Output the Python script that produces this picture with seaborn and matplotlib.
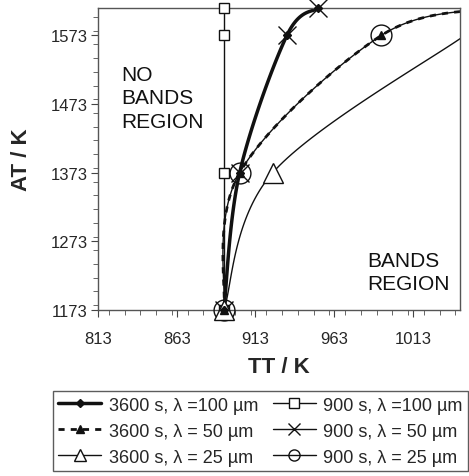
import numpy as np
import matplotlib
matplotlib.use('Agg')
import matplotlib.pyplot as plt
from matplotlib.ticker import MultipleLocator
import seaborn as sns

# AT levels (K)
at_levels = [1173, 1373, 1573, 1613]

# TT values (K) for every series
tt_3600_100 = [893, 903, 933, 953]
tt_3600_50 = [893, 903, 993, 1065]
tt_3600_25 = [893, 924, 1046]
tt_900_100 = [893, 893, 893, 893]
tt_900_50 = [893, 903, 933, 953]
tt_900_25 = [893, 903, 993, 1065]

labels = ['3600 s, λ =100 µm', '3600 s, λ = 50 µm', '3600 s, λ = 25 µm',
          '900 s, λ =100 µm', '900 s, λ = 50 µm', '900 s, λ = 25 µm']

XMIN, XMAX = 813, 1043
YMIN, YMAX = 1173, 1613
SX, SY = 1.57, 0.6875  # px per K, used to make the smoothing isotropic


def smooth(xs, ys, n=40):
    # Excel-like smoothed line (Catmull-Rom bezier), computed in pixel space
    p = np.column_stack([np.asarray(xs, float) * SX, np.asarray(ys, float) * SY])
    ext = np.vstack([p[0], p, p[-1]])
    t = np.linspace(0, 1, n)[:, None]
    out = []
    for i in range(len(p) - 1):
        p0, p1 = ext[i + 1], ext[i + 2]
        c1 = p0 + (ext[i + 2] - ext[i]) / 6
        c2 = p1 - (ext[i + 3] - ext[i + 1]) / 6
        seg = (1 - t) ** 3 * p0 + 3 * (1 - t) ** 2 * t * c1 + 3 * (1 - t) * t ** 2 * c2 + t ** 3 * p1
        out.append(seg if i == 0 else seg[1:])
    out = np.vstack(out)
    return out[:, 0] / SX, out[:, 1] / SY


sns.set_style('ticks')
plt.rcParams['font.family'] = ['Liberation Sans', 'DejaVu Sans']

fig = plt.figure(figsize=(4.69, 4.77), dpi=100)
ax = fig.add_axes([98 / 469, 1 - 311 / 477, 362 / 469, 302 / 477])

col = '#111111'
series = [
    (tt_3600_100, at_levels, dict(lw=2.5, ls='-'), dict(marker='D', ms=4, mfc=col, mec=col)),
    (tt_3600_50, at_levels, dict(lw=2.0, ls=(0, (2.2, 2.2))), dict(marker='^', ms=6, mfc=col, mec=col)),
    (tt_3600_25, at_levels[:3], dict(lw=1.0, ls='-'), dict(marker='^', ms=14, mfc='white', mec=col, mew=1.0)),
    (tt_900_100, at_levels, dict(lw=1.0, ls='-'), dict(marker='s', ms=7, mfc='white', mec=col, mew=1.0)),
    (tt_900_50, at_levels, dict(lw=1.0, ls='-'), dict(marker='x', ms=13, mec=col, mew=1.0)),
    (tt_900_25, at_levels, dict(lw=1.0, ls='-'), dict(marker='o', ms=15, mfc='none', mec=col, mew=1.0)),
]

# thin lines first, thick ones on top
draw_order = [3, 4, 5, 2, 0, 1]
for k in draw_order:
    xs, ys, lkw, mkw = series[k]
    sx, sy = smooth(xs, ys)
    sns.lineplot(x=sx, y=sy, sort=False, estimator=None, ax=ax, color=col, **lkw)

for k in draw_order:
    xs, ys, lkw, mkw = series[k]
    xs, ys = np.asarray(xs), np.asarray(ys)
    keep = (xs <= XMAX) & (ys <= YMAX)
    ax.plot(xs[keep], ys[keep], ls='none', color=col, clip_on=False, zorder=5, **mkw)

handles = []
for k in range(6):
    xs, ys, lkw, mkw = series[k]
    h, = ax.plot([], [], color=col, **lkw, **{**mkw, 'ms': min(mkw['ms'], 8)})
    handles.append(h)

ax.set_xlim(XMIN, XMAX)
ax.set_ylim(YMIN, YMAX)
ax.set_xticks([813, 863, 913, 963, 1013])
ax.set_yticks([1173, 1273, 1373, 1473, 1573])
ax.xaxis.set_minor_locator(MultipleLocator(10))
ax.yaxis.set_minor_locator(MultipleLocator(20))
ax.tick_params(which='major', length=5, width=0.8, color='#444444', labelsize=12)
ax.tick_params(which='minor', length=3.5, width=0.7, color='#666666')
ax.tick_params(axis='x', which='major', pad=10)
ax.tick_params(axis='y', which='major', pad=2.5)
for s in ax.spines.values():
    s.set_color('#555555')
    s.set_linewidth(1.0)

ax.set_xlabel('TT / K', fontsize=16, fontweight='bold', labelpad=7)
ax.set_ylabel('AT / K', fontsize=16, fontweight='bold', labelpad=13)

ax.text(828, 1530, 'NO\nBANDS\nREGION', fontsize=15, linespacing=1.3, va='top', ha='left', color=col)
ax.text(984, 1259, 'BANDS\nREGION', fontsize=15, linespacing=1.3, va='top', ha='left', color=col)

fig.legend(handles, labels, loc='upper center', bbox_to_anchor=(0.555, 0.178), ncol=2,
           fontsize=13, frameon=True, fancybox=False, edgecolor='#333333',
           handlelength=2.4, handletextpad=0.4, columnspacing=0.8, labelspacing=0.5,
           borderpad=0.3, borderaxespad=0)

fig.savefig('out.png', dpi=100)
